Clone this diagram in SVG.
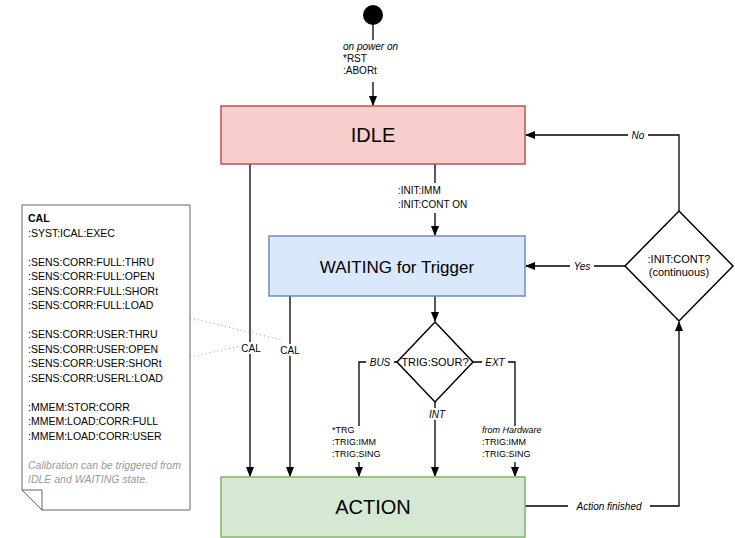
<svg xmlns="http://www.w3.org/2000/svg" width="735" height="538" viewBox="0 0 735 538">
<style>
text{font-family:"Liberation Sans",Arial,sans-serif;fill:#000}
.c{fill:none;stroke:#000;stroke-width:1.3}
.s{font-size:10px}
.i{font-style:italic}
.lb{fill:#fff}
.n{font-size:10.5px}
</style>
<defs><marker id="a" viewBox="0 0 10 10" refX="9" refY="5" markerWidth="8" markerHeight="8" orient="auto"><path d="M0,1L10,5L0,9z" fill="#000"/></marker></defs>
<rect width="735" height="538" fill="#fff"/>
<g id="connectors">
<path class="c" d="M373,25V105" marker-end="url(#a)"/>
<path class="c" d="M435,164V235" marker-end="url(#a)"/>
<path class="c" d="M250,164V476" marker-end="url(#a)"/>
<path class="c" d="M290,296V476" marker-end="url(#a)"/>
<path class="c" d="M435,296V321" marker-end="url(#a)"/>
<path class="c" d="M397,362H359V476" marker-end="url(#a)"/>
<path class="c" d="M473,362H515V476" marker-end="url(#a)"/>
<path class="c" d="M435,402V476" marker-end="url(#a)"/>
<path class="c" d="M525,506H679V322" marker-end="url(#a)"/>
<path class="c" d="M679,211V135H526" marker-end="url(#a)"/>
<path class="c" d="M625,266H526" marker-end="url(#a)"/>
<path d="M190,318L282,340M190,357L240,346" fill="none" stroke="#999" stroke-dasharray="1,3"/>
<rect class="lb" x="341" y="40" width="66" height="42"/>
<text class="s" x="343" y="50"><tspan class="i">on power on</tspan><tspan x="343" dy="12">*RST</tspan><tspan x="343" dy="12">:ABORt</tspan></text>
<rect class="lb" x="396" y="183" width="80" height="30"/>
<text class="s" x="398" y="194">:INIT:IMM<tspan x="398" dy="14">:INIT:CONT ON</tspan></text>
<rect class="lb" x="238" y="342" width="26" height="12"/>
<text class="s" x="251" y="352" text-anchor="middle">CAL</text>
<rect class="lb" x="277" y="344" width="26" height="12"/>
<text class="s" x="290" y="354" text-anchor="middle">CAL</text>
<rect class="lb" x="366" y="356" width="28" height="12"/>
<text class="s i" x="380" y="366" text-anchor="middle">BUS</text>
<rect class="lb" x="482" y="356" width="26" height="12"/>
<text class="s i" x="495" y="366" text-anchor="middle">EXT</text>
<rect class="lb" x="425" y="408" width="22" height="12"/>
<text class="s i" x="437" y="418" text-anchor="middle">INT</text>
<rect class="lb" x="331" y="426" width="58" height="36"/>
<text x="332" y="433" font-size="9">*TRG<tspan x="332" dy="12">:TRIG:IMM</tspan><tspan x="332" dy="12">:TRIG:SING</tspan></text>
<rect class="lb" x="481" y="426" width="72" height="36"/>
<text x="482" y="433" font-size="9"><tspan class="i">from Hardware</tspan><tspan x="482" dy="12">:TRIG:IMM</tspan><tspan x="482" dy="12">:TRIG:SING</tspan></text>
<rect class="lb" x="568" y="500" width="82" height="12"/>
<text class="s i" x="609" y="510" text-anchor="middle">Action finished</text>
<rect class="lb" x="628" y="129" width="20" height="12"/>
<text class="s i" x="638" y="139" text-anchor="middle">No</text>
<rect class="lb" x="570" y="260" width="24" height="12"/>
<text class="s i" x="582" y="270" text-anchor="middle">Yes</text>
</g>
<g id="start"><circle cx="373" cy="15" r="10" fill="#000"/></g>
<g id="idle"><rect x="221" y="106" width="304" height="58" fill="#f8cecc" stroke="#b85450" stroke-width="1.5"/><text x="373" y="142" font-size="20" text-anchor="middle">IDLE</text></g>
<g id="waiting"><rect x="269" y="236" width="256" height="60" fill="#dae8fc" stroke="#6c8ebf" stroke-width="1.5"/><text x="397" y="273" font-size="17" text-anchor="middle">WAITING for Trigger</text></g>
<g id="action"><rect x="221" y="477" width="304" height="60" fill="#d5e8d4" stroke="#82b366" stroke-width="1.5"/><text x="373" y="514" font-size="20" text-anchor="middle">ACTION</text></g>
<g id="trigsour"><path d="M435,322L473,362L435,402L397,362Z" fill="#fff" stroke="#000" stroke-width="1.5"/><text x="435" y="366" font-size="11" text-anchor="middle">TRIG:SOUR?</text></g>
<g id="initcont"><path d="M679,211L733,266L679,321L625,266Z" fill="#fff" stroke="#000" stroke-width="1.5"/><text x="679" y="263" font-size="11" text-anchor="middle">:INIT:CONT?<tspan x="679" dy="13">(continuous)</tspan></text></g>
<g id="note"><path d="M22,205H190V510H42L22,490Z" fill="#fff" stroke="#666"/><path d="M22,490H42V510" fill="none" stroke="#666"/>
<text class="n" x="28" y="222"><tspan font-weight="bold">CAL</tspan><tspan x="28" dy="14.5">:SYST:ICAL:EXEC</tspan><tspan x="28" dy="29">:SENS:CORR:FULL:THRU</tspan><tspan x="28" dy="14.5">:SENS:CORR:FULL:OPEN</tspan><tspan x="28" dy="14.5">:SENS:CORR:FULL:SHORt</tspan><tspan x="28" dy="14.5">:SENS:CORR:FULL:LOAD</tspan><tspan x="28" dy="29">:SENS:CORR:USER:THRU</tspan><tspan x="28" dy="14.5">:SENS:CORR:USER:OPEN</tspan><tspan x="28" dy="14.5">:SENS:CORR:USER:SHORt</tspan><tspan x="28" dy="14.5">:SENS:CORR:USERL:LOAD</tspan><tspan x="28" dy="29">:MMEM:STOR:CORR</tspan><tspan x="28" dy="14.5">:MMEM:LOAD:CORR:FULL</tspan><tspan x="28" dy="14.5">:MMEM:LOAD:CORR:USER</tspan><tspan x="28" dy="29" class="i" fill="#999">Calibration can be triggered from</tspan><tspan x="28" dy="14.5" class="i" fill="#999">IDLE and WAITING state.</tspan></text></g>
</svg>
